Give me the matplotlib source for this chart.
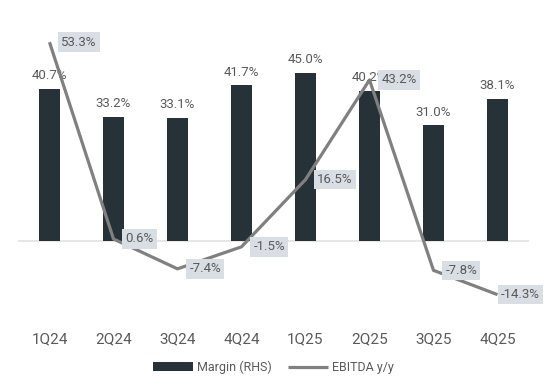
import numpy as np
import matplotlib.pyplot as plt

plt.rcParams['font.family'] = ['Roboto', 'DejaVu Sans']

quarters = ['1Q24', '2Q24', '3Q24', '4Q24', '1Q25', '2Q25', '3Q25', '4Q25']
margin = [40.7, 33.2, 33.1, 41.7, 45.0, 40.2, 31.0, 38.1]
ebitda_yy = [53.3, 0.6, -7.4, -1.5, 16.5, 43.2, -7.8, -14.3]

bar_color = '#263238'
line_color = '#808080'
text_color = '#595959'
box_color = '#d9dee4'

fig = plt.figure(figsize=(5.47, 3.9), dpi=100)
ax = fig.add_axes([0.032, 0.19, 0.936, 0.766])
ax2 = ax.twinx()

x = np.arange(len(quarters))
ylim = (-20, 60)

# margin bars on the "right" axis
bars = ax2.bar(x, margin, width=0.33, color=bar_color, zorder=2, label='Margin (RHS)')
for xi, v in zip(x, margin):
    ax2.annotate(f'{v:.1f}%', (xi, v), xytext=(0, 5), textcoords='offset points',
                 ha='center', va='bottom', fontsize=9.5, color=text_color, zorder=3)

ax.axhline(0, color='#e3e3e3', lw=1.2, zorder=1)
line, = ax2.plot(x, ebitda_yy, color=line_color, lw=2.3, zorder=4, label='EBITDA y/y',
                 solid_capstyle='butt')
for i, (xi, v) in enumerate(zip(x, ebitda_yy)):
    dx = 2.5 if i == len(x) - 1 else 8.5  # last label pushed in from the edge
    ax2.annotate(f'{v:.1f}%', (xi, v), xytext=(dx, 0), textcoords='offset points',
                 ha='left', va='center', fontsize=9.5, color=text_color, zorder=5,
                 bbox=dict(boxstyle='square,pad=0.25', fc=box_color, ec='none'))

for a in (ax, ax2):
    a.set_ylim(*ylim)
    a.set_xlim(-0.5, len(quarters) - 0.5)
    for s in a.spines.values():
        s.set_visible(False)
    a.set_yticks([])

ax.set_xticks(x)
ax.set_xticklabels(quarters, fontsize=11, color=text_color)
ax.tick_params(axis='x', length=0, pad=12)

fig.legend([bars, line], ['Margin (RHS)', 'EBITDA y/y'], loc='center',
           bbox_to_anchor=(0.5, 0.058), ncol=2, frameon=False,
           fontsize=9, labelcolor=text_color, handlelength=3.2, handletextpad=0.3,
           columnspacing=1.3)

fig.savefig('out.png', dpi=100)
